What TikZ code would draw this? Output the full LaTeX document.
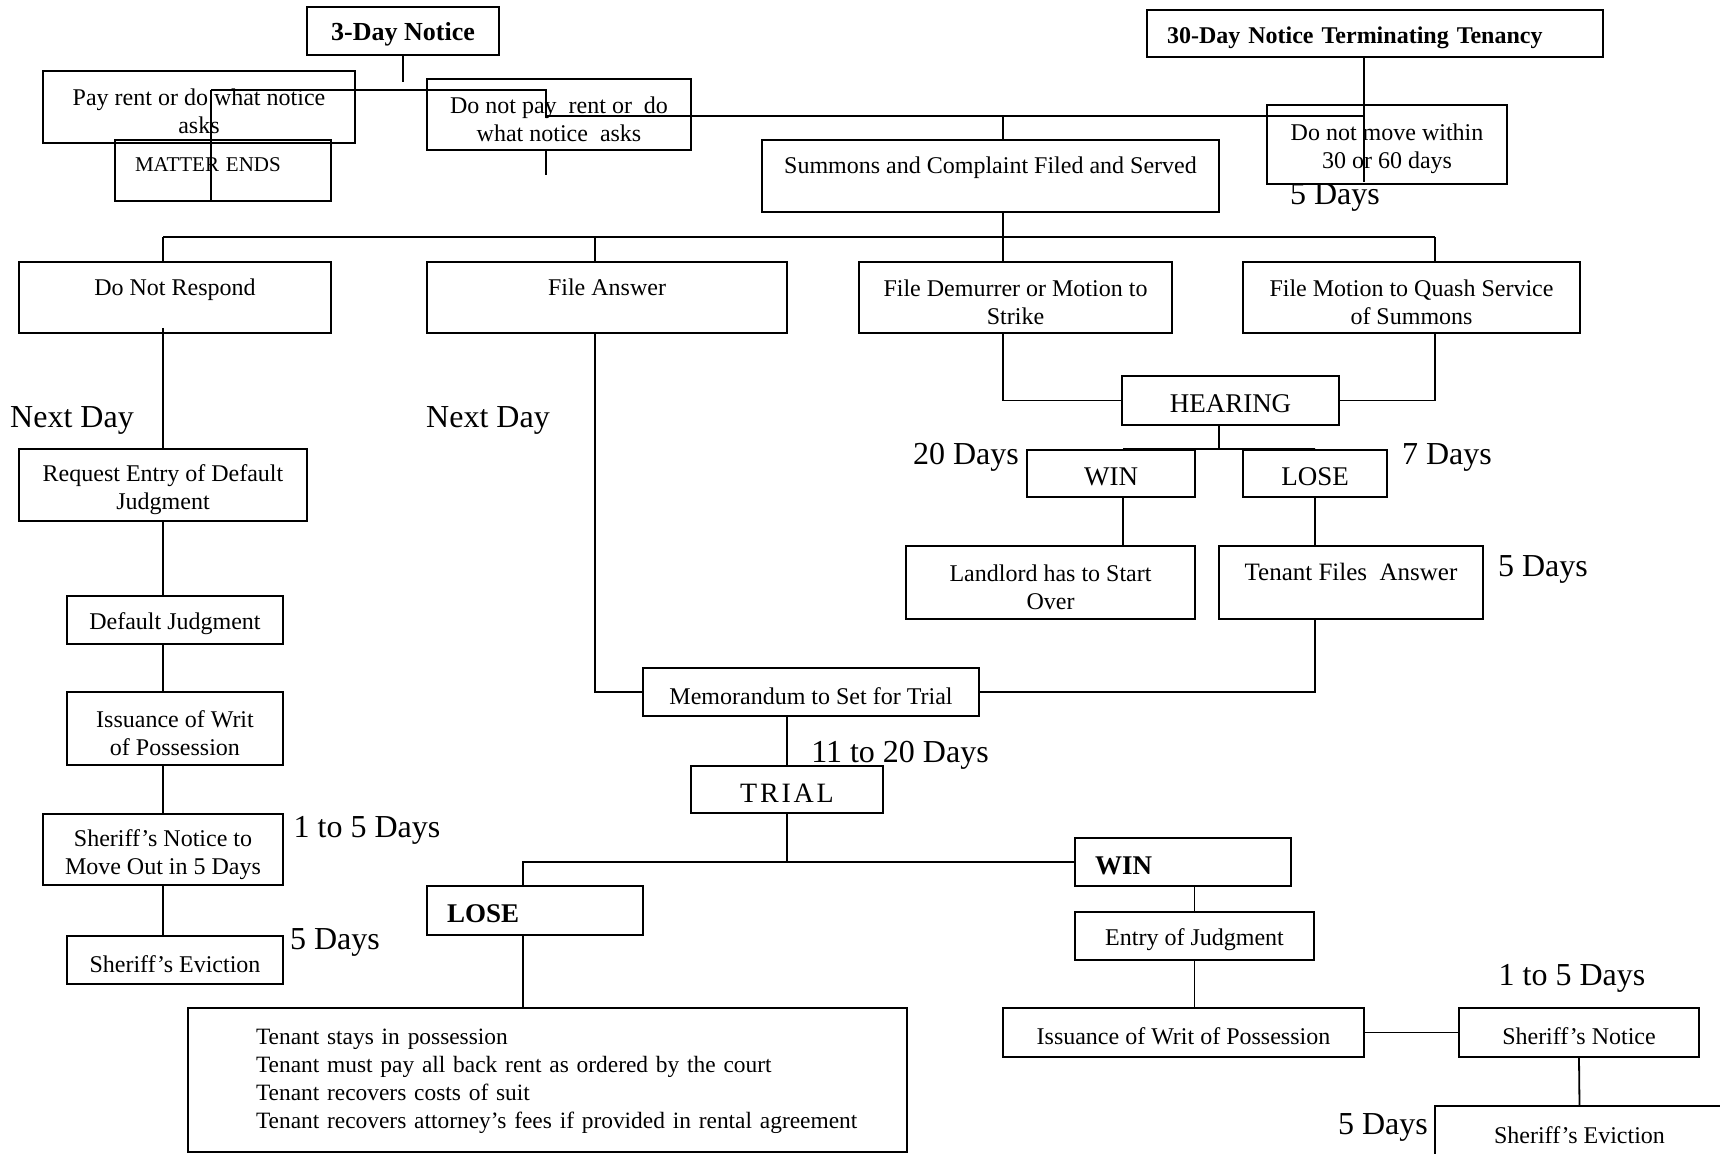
\documentclass[tikz,border=0pt]{standalone}
\usepackage{fontspec}
\setmainfont{Liberation Serif}
\usetikzlibrary{positioning,calc}

\begin{document}
\begin{tikzpicture}[
    x=0.5pt, y=-0.5pt,
    box/.style={draw, rectangle, line width=0.9pt, inner sep=2pt, align=center, text height=12.5pt, font=\fontsize{12}{14}\selectfont},
    twoline/.style={text height=27pt},
    raised/.style={text depth=15pt},
    headbox/.style={box, align=left, inner xsep=10pt, font=\bfseries\fontsize{12}{14}\selectfont},
    capbox/.style={box, font=\fontsize{13.5}{16}\selectfont},
    resultbox/.style={box, align=left, inner xsep=10pt, text width=88pt, font=\bfseries\fontsize{13.5}{16}\selectfont},
    days/.style={font=\fontsize{16}{19}\selectfont, inner sep=0pt, yshift=-1.75pt},
    link/.style={line width=0.9pt}
]
\useasboundingbox (0,0) rectangle (1720,1153);

% 3-Day notice branch
\node[box, font=\bfseries\fontsize{13}{15}\selectfont, minimum width=96pt, minimum height=24pt] (notice3) at (403,31) {3-Day Notice};
\node[box, twoline, minimum width=156pt, minimum height=36pt] (payrent) at (199,107) {Pay rent or do what notice\\asks};
\node[box, align=left, inner xsep=10pt, text width=88pt, font=\fontsize{10.5}{12}\selectfont, text height=7pt, text depth=6pt, minimum height=30.5pt] (matter) at (223,170.5) {MATTER ENDS};
\node[box, twoline, minimum width=132pt, minimum height=35.5pt] (donotpay) at (559,114.5) {Do not pay\ \ rent or\ \ do\\what notice\ \ asks};

% 30-Day notice branch
\node[headbox, text width=208pt, minimum height=23.5pt] (notice30) at (1375,33.5) {30-Day Notice Terminating Tenancy};
\node[box, twoline, minimum width=120pt, minimum height=39.5pt] (nomove) at (1387,144.5) {Do not move within\\30 or 60 days};
\node[days] (d5top) at (1335,194) {5 Days};

% Summons
\node[box, raised, minimum width=228.5pt, minimum height=36pt] (summons) at (990.5,176) {Summons and Complaint Filed and Served};

% Responses
\node[box, raised, minimum width=156pt, minimum height=35.5pt] (norespond) at (175,297.5) {Do Not Respond};
\node[box, raised, minimum width=180pt, minimum height=35.5pt] (answer) at (607,297.5) {File Answer};
\node[box, twoline, minimum width=156.5pt, minimum height=35.5pt] (demurrer) at (1015.5,297.5) {File Demurrer or Motion to\\Strike};
\node[box, twoline, minimum width=168.5pt, minimum height=35.5pt] (quash) at (1411.5,297.5) {File Motion to Quash Service\\of Summons};

% Default path
\node[days] (nextday1) at (72,417) {Next Day};
\node[days] (nextday2) at (488,417) {Next Day};
\node[box, twoline, minimum width=144pt, minimum height=36pt] (request) at (163,485) {Request Entry of Default\\Judgment};
\node[box, minimum width=108pt, minimum height=24pt] (defjudg) at (175,620) {Default Judgment};
\node[box, twoline, minimum width=108pt, minimum height=36.5pt] (writ1) at (175,728.5) {Issuance of Writ\\of Possession};
\node[box, twoline, text height=28pt, minimum width=120pt, minimum height=35.5pt] (move5) at (163,849.5) {Sheriff’s Notice to\\Move Out in 5 Days};
\node[days] (d15a) at (367,827) {1 to 5 Days};
\node[box, minimum width=108pt, minimum height=24pt] (evict1) at (175,960) {Sheriff’s Eviction};
\node[days] (d5a) at (335,939) {5 Days};

% Hearing path
\node[capbox, minimum width=108.5pt, minimum height=24.5pt] (hearing) at (1230.5,400.5) {HEARING};
\node[days] (d20) at (966,454) {20 Days};
\node[days] (d7) at (1447,454) {7 Days};
\node[capbox, minimum width=84pt, minimum height=23.5pt] (hwin) at (1111,473.5) {WIN};
\node[capbox, minimum width=72pt, minimum height=23.5pt] (hlose) at (1315,473.5) {LOSE};
\node[box, twoline, minimum width=144.5pt, minimum height=36.5pt] (landlord) at (1050.5,582.5) {Landlord has to Start\\Over};
\node[box, raised, font=\fontsize{12.5}{14}\selectfont, minimum width=132pt, minimum height=36.5pt] (tenantans) at (1351,582.5) {Tenant Files\ \ Answer};
\node[days] (d5b) at (1543,566) {5 Days};

% Trial
\node[box, minimum width=168pt, minimum height=24pt] (memo) at (811,692) {Memorandum to Set for Trial};
\node[days] (d1120) at (900,752) {11 to 20 Days};
\node[box, font=\fontsize{14}{16}\selectfont\addfontfeature{LetterSpace=10}, minimum width=96pt, minimum height=23.5pt] (trial) at (787,789.5) {TRIAL};
\node[resultbox, minimum height=24pt] (twin) at (1183,862) {WIN};
\node[resultbox, minimum height=24.5pt] (tlose) at (535,910.5) {LOSE};
\node[box, minimum width=119.5pt, minimum height=24pt] (entry) at (1194.5,936) {Entry of Judgment};
\node[box, align=left, inner xsep=34pt, text width=291.5pt, text height=9pt, font=\fontsize{11.7}{14}\selectfont, minimum height=72pt] (outcome) at (547.5,1080) {Tenant stays in possession\\Tenant must pay all back rent as ordered by the court\\Tenant recovers costs of suit\\\mbox{Tenant recovers attorney’s fees if provided in rental agreement}};
\node[box, minimum width=180.5pt, minimum height=24.5pt] (writ2) at (1183.5,1032.5) {Issuance of Writ of Possession};
\node[box, minimum width=120pt, minimum height=24.5pt] (shnotice) at (1579,1032.5) {Sheriff’s Notice};
\node[days] (d15b) at (1572,975) {1 to 5 Days};
\node[box, minimum width=144.5pt, minimum height=25pt] (evict2) at (1579.5,1131) {Sheriff’s Eviction};
\node[days] (d5c) at (1383,1124) {5 Days};

% Junction points
\coordinate (tick) at (403,82);
\coordinate (payL) at (211,90);
\coordinate (payR) at (546,90);
\coordinate (join) at (546,116);
\coordinate (join30) at (1364,116);
\coordinate (stub) at (546,175);
\coordinate (spine) at (1003,237);
\coordinate (busL) at (163,237);
\coordinate (busA) at (595,237);
\coordinate (busR) at (1435,237);
\coordinate (hsplit) at (1219,449);
\coordinate (winx) at (1123,449);
\coordinate (trialx) at (787,862);
\coordinate (losex) at (523,862);

% Connectors, top
\draw[link] (notice3.south) -- (tick);
\draw[link] (payL) -- (payR) -- (join) -- (join30);
\draw[link] (payL) -- (payL |- matter.south);
\draw[link] (join |- donotpay.south) -- (stub);
\draw[link] (notice30.south -| join30) -- ([yshift=1.5pt]join30 |- nomove.south);
\draw[link] (join -| spine) -- (summons.north -| spine);

% Connectors, responses
\draw[link] (summons.south -| spine) -- (spine);
\draw[link] (busL) -- (busR);
\draw[link] (busL) -- (norespond.north -| busL);
\draw[link] (busA) -- (answer.north -| busA);
\draw[link] (spine) -- (demurrer.north -| spine);
\draw[link] (busR) -- (quash.north -| busR);

% Connectors, default path
\draw[link] ([yshift=3pt]norespond.south -| busL) -- (request.north);
\draw[link] (request.south) -- (request.south |- defjudg.north);
\draw[link] (defjudg.south -| request) -- (writ1.north -| request);
\draw[link] (writ1.south -| request) -- (move5.north);
\draw[link] (move5.south) -- (move5.south |- evict1.north);

% Connectors, hearing path
\draw[link] (demurrer.south -| spine) |- (hearing.west);
\draw[link] (quash.south -| busR) |- (hearing.east);
\draw[link] (hearing.south -| hsplit) -- (hsplit);
\draw[link] (winx) -- (hlose.north);
\draw[link] (winx |- hwin.south) -- (winx |- landlord.north);
\draw[link] (hlose.south) -- (hlose.south |- tenantans.north);

% Connectors, trial
\draw[link] (answer.south -| busA) |- (memo.west);
\draw[link] (tenantans.south -| hlose) |- (memo.east);
\draw[link] (memo.south -| trialx) -- (trial.north);
\draw[link] (trial.south) -- (trialx);
\draw[link] (twin.west) -- (losex) -- (losex |- tlose.north);
\draw[link] (losex |- tlose.south) -- (losex |- outcome.north);
\draw[link] (twin.south -| entry) -- (entry.north);
\draw[link] (entry.south) -- (entry.south |- writ2.north);
\draw[link] (writ2.east) -- (shnotice.west);
\draw[link] (shnotice.south) -- (evict2.north);

\end{tikzpicture}
\end{document}
